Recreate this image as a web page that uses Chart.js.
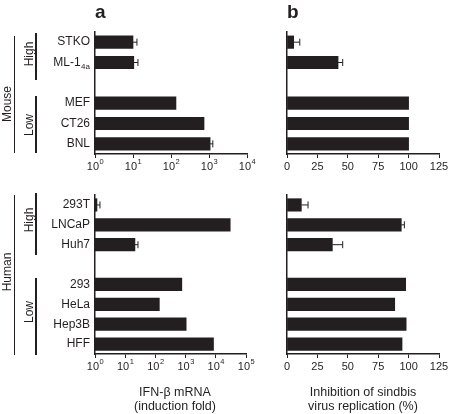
<!DOCTYPE html>
<html>
<head>
<meta charset="utf-8">
<script src="https://cdn.jsdelivr.net/npm/chart.js@4.4.1/dist/chart.umd.min.js"></script>
<style>
  body { margin: 0; background: #fff; }
  #fig { position: relative; width: 450px; height: 414px; font-family: 'Liberation Sans', Arial, sans-serif; color: #231f20; }
  #fig canvas { position: absolute; left: 0; top: 0; }
  .t { position: absolute; white-space: nowrap; font-size: 12px; line-height: 12px; }
  .rot { transform: translate(-50%, -50%) rotate(-90deg); }
  .vl { position: absolute; width: 1.5px; background: #231f20; }
  .letter { font-weight: bold; font-size: 19px; line-height: 19px; }
  .ax { transform: translateX(-50%); text-align: center; font-size: 12.5px; line-height: 14px; }
</style>
</head>
<body>
<div id="fig">
  <canvas id="mouseMrnaChart" width="450" height="414"></canvas>
  <canvas id="mouseInhibChart" width="450" height="414"></canvas>
  <canvas id="humanMrnaChart" width="450" height="414"></canvas>
  <canvas id="humanInhibChart" width="450" height="414"></canvas>

  <div class="t letter" style="left:95px; top:2px;">a</div>
  <div class="t letter" style="left:287px; top:2px;">b</div>

  <!-- groupes a gauche -->
  <div class="vl" style="left:13.5px; top:36px; height:117px;"></div>
  <div class="vl" style="left:35px; top:33px; height:47px;"></div>
  <div class="vl" style="left:35px; top:96px; height:57px;"></div>
  <div class="t rot" style="left:7px; top:104px;">Mouse</div>
  <div class="t rot" style="left:29px; top:54px;">High</div>
  <div class="t rot" style="left:29px; top:125px;">Low</div>

  <div class="vl" style="left:13.5px; top:195px; height:160px;"></div>
  <div class="vl" style="left:35px; top:193px; height:62px;"></div>
  <div class="vl" style="left:35px; top:278px; height:77px;"></div>
  <div class="t rot" style="left:7px; top:272px;">Human</div>
  <div class="t rot" style="left:29px; top:220px;">High</div>
  <div class="t rot" style="left:29px; top:312px;">Low</div>

  <div class="t ax" style="left:175px; top:385px;">IFN-&beta; mRNA<br>(induction fold)</div>
  <div class="t ax" style="left:363px; top:385px;">Inhibition of sindbis<br>virus replication (%)</div>
</div>

<script>
const INK = '#231f20';
const FONT = "'Liberation Sans', Arial, sans-serif";
const W = 450, H = 414;

// --- donnees ---
const mouseCells = ['STKO', 'ML-1_4a', '', 'MEF', 'CT26', 'BNL'];
const mouseMrna = [10, 10.5, null, 135, 740, 1070];
const mouseMrnaErr = [2.7, 3, 0, 0, 0, 190];
const mouseInhib = [5.5, 42, null, 100, 100, 100];
const mouseInhibErr = [5, 3.8, 0, 0, 0, 0];

const humanCells = ['293T', 'LNCaP', 'Huh7', '', '293', 'HeLa', 'Hep3B', 'HFF'];
const humanMrna = [1.16, 30000, 21, null, 750, 135, 1045, 8400];
const humanMrnaErr = [0.3, 0, 5.5, 0, 0, 0, 0, 0];
const humanInhib = [11.8, 94, 37.3, null, 97.6, 88.6, 98, 94.6];
const humanInhibErr = [5.5, 2.5, 8.5, 0, 0, 0, 0, 0];

// graduations
const mouseMrnaExp = [0, 1, 2, 3, 4];
const humanMrnaExp = [0, 1, 2, 3, 4, 5];
const inhibTicks = [0, 25, 50, 75, 100, 125];

// noms des lignes, barres d'erreur et etiquettes de l'axe x
const decor = {
  id: 'decor',
  afterDraw(chart, args, o) {
    const c = chart.ctx, xs = chart.scales.x, ys = chart.scales.y, area = chart.chartArea;
    c.save();
    c.fillStyle = INK;
    c.strokeStyle = INK;

    if (o.cells) {
      c.textBaseline = 'middle';
      o.cells.forEach((name, i) => {
        if (!name) return;
        const y = ys.getPixelForValue(i);
        const [main, sub] = name.split('_');
        let x = area.left - 5;
        if (sub) {
          c.font = '8px ' + FONT;
          const sw = c.measureText(sub).width;
          c.textAlign = 'left';
          c.fillText(sub, x - sw, y + 4);
          x -= sw + 0.5;
        }
        c.font = '12px ' + FONT;
        c.textAlign = 'right';
        c.fillText(main, x, y);
      });
    }

    c.lineWidth = 1;
    o.values.forEach((v, i) => {
      const e = o.errs[i];
      if (v == null || !e) return;
      const y = ys.getPixelForValue(i);
      const x1 = xs.getPixelForValue(v), x2 = xs.getPixelForValue(v + e);
      c.beginPath();
      c.moveTo(x1, y); c.lineTo(x2, y);
      c.moveTo(x2, y - 3.5); c.lineTo(x2, y + 3.5);
      c.stroke();
    });

    const ty = area.bottom + 13;
    c.textBaseline = 'middle';
    if (o.exps) {
      o.exps.forEach(e => {
        const x = xs.getPixelForValue(Math.pow(10, e));
        c.font = '11px ' + FONT;
        const w1 = c.measureText('10').width;
        c.font = '7.5px ' + FONT;
        const w2 = c.measureText(String(e)).width;
        const x0 = x - (w1 + w2) / 2;
        c.textAlign = 'left';
        c.font = '11px ' + FONT;
        c.fillText('10', x0, ty);
        c.font = '7.5px ' + FONT;
        c.fillText(String(e), x0 + w1 + 0.5, ty - 5);
      });
    } else {
      c.font = '11px ' + FONT;
      c.textAlign = 'center';
      o.ticks.forEach(t => c.fillText(String(t), xs.getPixelForValue(t), ty));
    }
    c.restore();
  }
};

function panel(id, p) {
  const tickValues = p.exps ? p.exps.map(e => Math.pow(10, e)) : p.ticks;
  return new Chart(document.getElementById(id), {
    type: 'bar',
    data: {
      labels: p.cells,
      datasets: [{ data: p.values, backgroundColor: INK, borderWidth: 0, barThickness: 12.5 }]
    },
    options: {
      indexAxis: 'y',
      responsive: false,
      animation: false,
      layout: { padding: { left: p.area[0], top: p.area[1], right: W - p.area[2], bottom: H - p.area[3] } },
      plugins: {
        legend: { display: false },
        tooltip: { enabled: false },
        decor: { cells: p.showCells ? p.cells : null, values: p.values, errs: p.errs, exps: p.exps, ticks: p.ticks }
      },
      scales: {
        y: {
          ticks: { display: false },
          grid: { drawOnChartArea: false, drawTicks: false },
          border: { display: true, color: INK, width: 1.5 },
          afterFit: s => { s.width = 0; }
        },
        x: {
          type: p.exps ? 'logarithmic' : 'linear',
          min: p.exps ? 1 : 0,
          max: tickValues[tickValues.length - 1],
          afterBuildTicks: s => { s.ticks = tickValues.map(v => ({ value: v })); },
          afterFit: s => { s.height = 0; },
          ticks: { display: false },
          grid: { drawOnChartArea: false, drawTicks: true, tickLength: 4, color: INK, lineWidth: 1 },
          border: { display: true, color: INK, width: 1.5 }
        }
      }
    },
    plugins: [decor]
  });
}

panel('mouseMrnaChart', { cells: mouseCells, values: mouseMrna, errs: mouseMrnaErr, exps: mouseMrnaExp, showCells: true, area: [95, 32, 247, 154] });
panel('mouseInhibChart', { cells: mouseCells, values: mouseInhib, errs: mouseInhibErr, ticks: inhibTicks, showCells: false, area: [287, 32, 439, 154] });
panel('humanMrnaChart', { cells: humanCells, values: humanMrna, errs: humanMrnaErr, exps: humanMrnaExp, showCells: true, area: [95, 195, 246, 354] });
panel('humanInhibChart', { cells: humanCells, values: humanInhib, errs: humanInhibErr, ticks: inhibTicks, showCells: false, area: [287, 195, 439, 354] });
</script>
</body>
</html>
